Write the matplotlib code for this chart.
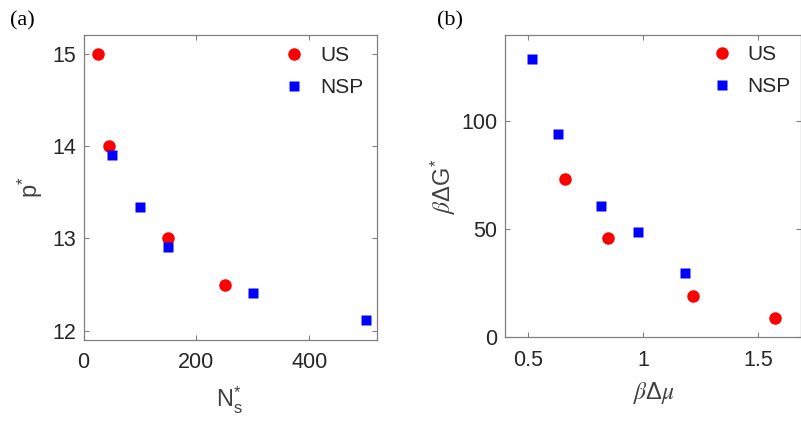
import matplotlib
matplotlib.use("Agg")
import matplotlib.pyplot as plt

plt.rcParams['font.family'] = ['Liberation Sans', 'DejaVu Sans']
plt.rcParams['mathtext.fontset'] = 'stix'

# Panel (a)
a_us_x = [25, 45, 150, 250]
a_us_y = [15.0, 14.0, 13.0, 12.5]
a_nsp_x = [50, 100, 150, 300, 500]
a_nsp_y = [13.9, 13.34, 12.91, 12.41, 12.12]
a_xticks = [0, 200, 400]
a_yticks = [12, 13, 14, 15]

# Panel (b)
b_us_x = [0.66, 0.848, 1.218, 1.577]
b_us_y = [73.1, 46.1, 19.3, 8.8]
b_nsp_x = [0.516, 0.628, 0.816, 0.979, 1.184]
b_nsp_y = [128.7, 94.1, 60.9, 48.9, 29.6]
b_xticks = [0.5, 1, 1.5]
b_xticklabels = ['0.5', '1', '1.5']
b_yticks = [0, 50, 100]

TXT = '#262626'
LBL = '#404040'
AXC = '#808080'

fig = plt.figure(figsize=(8.01, 4.21), dpi=100)
W, H = 801, 421
ax1 = fig.add_axes([83.5 / W, 1 - 340 / H, (376.5 - 83.5) / W, (340 - 34.5) / H])
ax2 = fig.add_axes([505 / W, 1 - 337.3 / H, (800.5 - 505) / W, (337.3 - 34.5) / H])

for ax in (ax1, ax2):
    for s in ax.spines.values():
        s.set_color(AXC)
        s.set_linewidth(0.9)
    ax.tick_params(direction='in', top=True, right=True, length=3.5, width=0.8,
                   color=AXC, labelcolor=TXT, labelsize=15.5)
    ax.tick_params(axis='x', pad=9)
    ax.tick_params(axis='y', pad=5.5)

ms_c = 9
ms_s = 6.5
leg_kw = dict(frameon=False, fontsize=15, handletextpad=0.75, handlelength=1.0,
              borderpad=0, borderaxespad=0, labelspacing=0.6, labelcolor=TXT,
              loc='upper left')

ax1.plot(a_us_x, a_us_y, 'o', color='#ff0000', ms=ms_c, mec='none', label='US')
ax1.plot(a_nsp_x, a_nsp_y, 's', color='#0000ff', ms=ms_s, mec='none', label='NSP')
ax1.set_xlim(0, 519)
ax1.set_ylim(11.9, 15.21)
ax1.set_xticks(a_xticks)
ax1.set_yticks(a_yticks)
ax1.set_xlabel('N' + r'$_\mathregular{s}^{\mathregular{*}}$', fontsize=17, color=LBL)
ax1.xaxis.set_label_coords(0.5, -0.196)
ax1.xaxis.label.set_va('center')
ax1.set_ylabel('p' + r'$^\mathregular{*}$', fontsize=17, color=LBL)
ax1.yaxis.set_label_coords(-0.183, 0.5)
ax1.yaxis.label.set_va('center')
ax1.legend(bbox_to_anchor=(0.683, 0.961), **leg_kw)

ax2.plot(b_us_x, b_us_y, 'o', color='#ff0000', ms=ms_c, mec='none', label='US')
ax2.plot(b_nsp_x, b_nsp_y, 's', color='#0000ff', ms=ms_s, mec='none', label='NSP')
ax2.set_xlim(0.398, 1.686)
ax2.set_ylim(0, 140.2)
ax2.set_xticks(b_xticks)
ax2.set_xticklabels(b_xticklabels)
ax2.set_yticks(b_yticks)
ax2.set_xlabel(r'$\beta$' + 'Δ' + r'$\mu$', fontsize=17, color=LBL)
ax2.xaxis.set_label_coords(0.505, -0.184)
ax2.xaxis.label.set_va('center')
ax2.set_ylabel(r'$\beta$' + 'ΔG' + r'$^\mathregular{*}$', fontsize=17, color=LBL)
ax2.yaxis.set_label_coords(-0.21, 0.5)
ax2.yaxis.label.set_va('center')
ax2.legend(bbox_to_anchor=(0.698, 0.964), **leg_kw)

fig.text(10 / W, 1 - 21 / H, '(a)', fontsize=16, family='Liberation Serif',
         color='black', va='center', ha='left')
fig.text(437 / W, 1 - 21 / H, '(b)', fontsize=16, family='Liberation Serif',
         color='black', va='center', ha='left')

fig.savefig('out.png', dpi=100)
